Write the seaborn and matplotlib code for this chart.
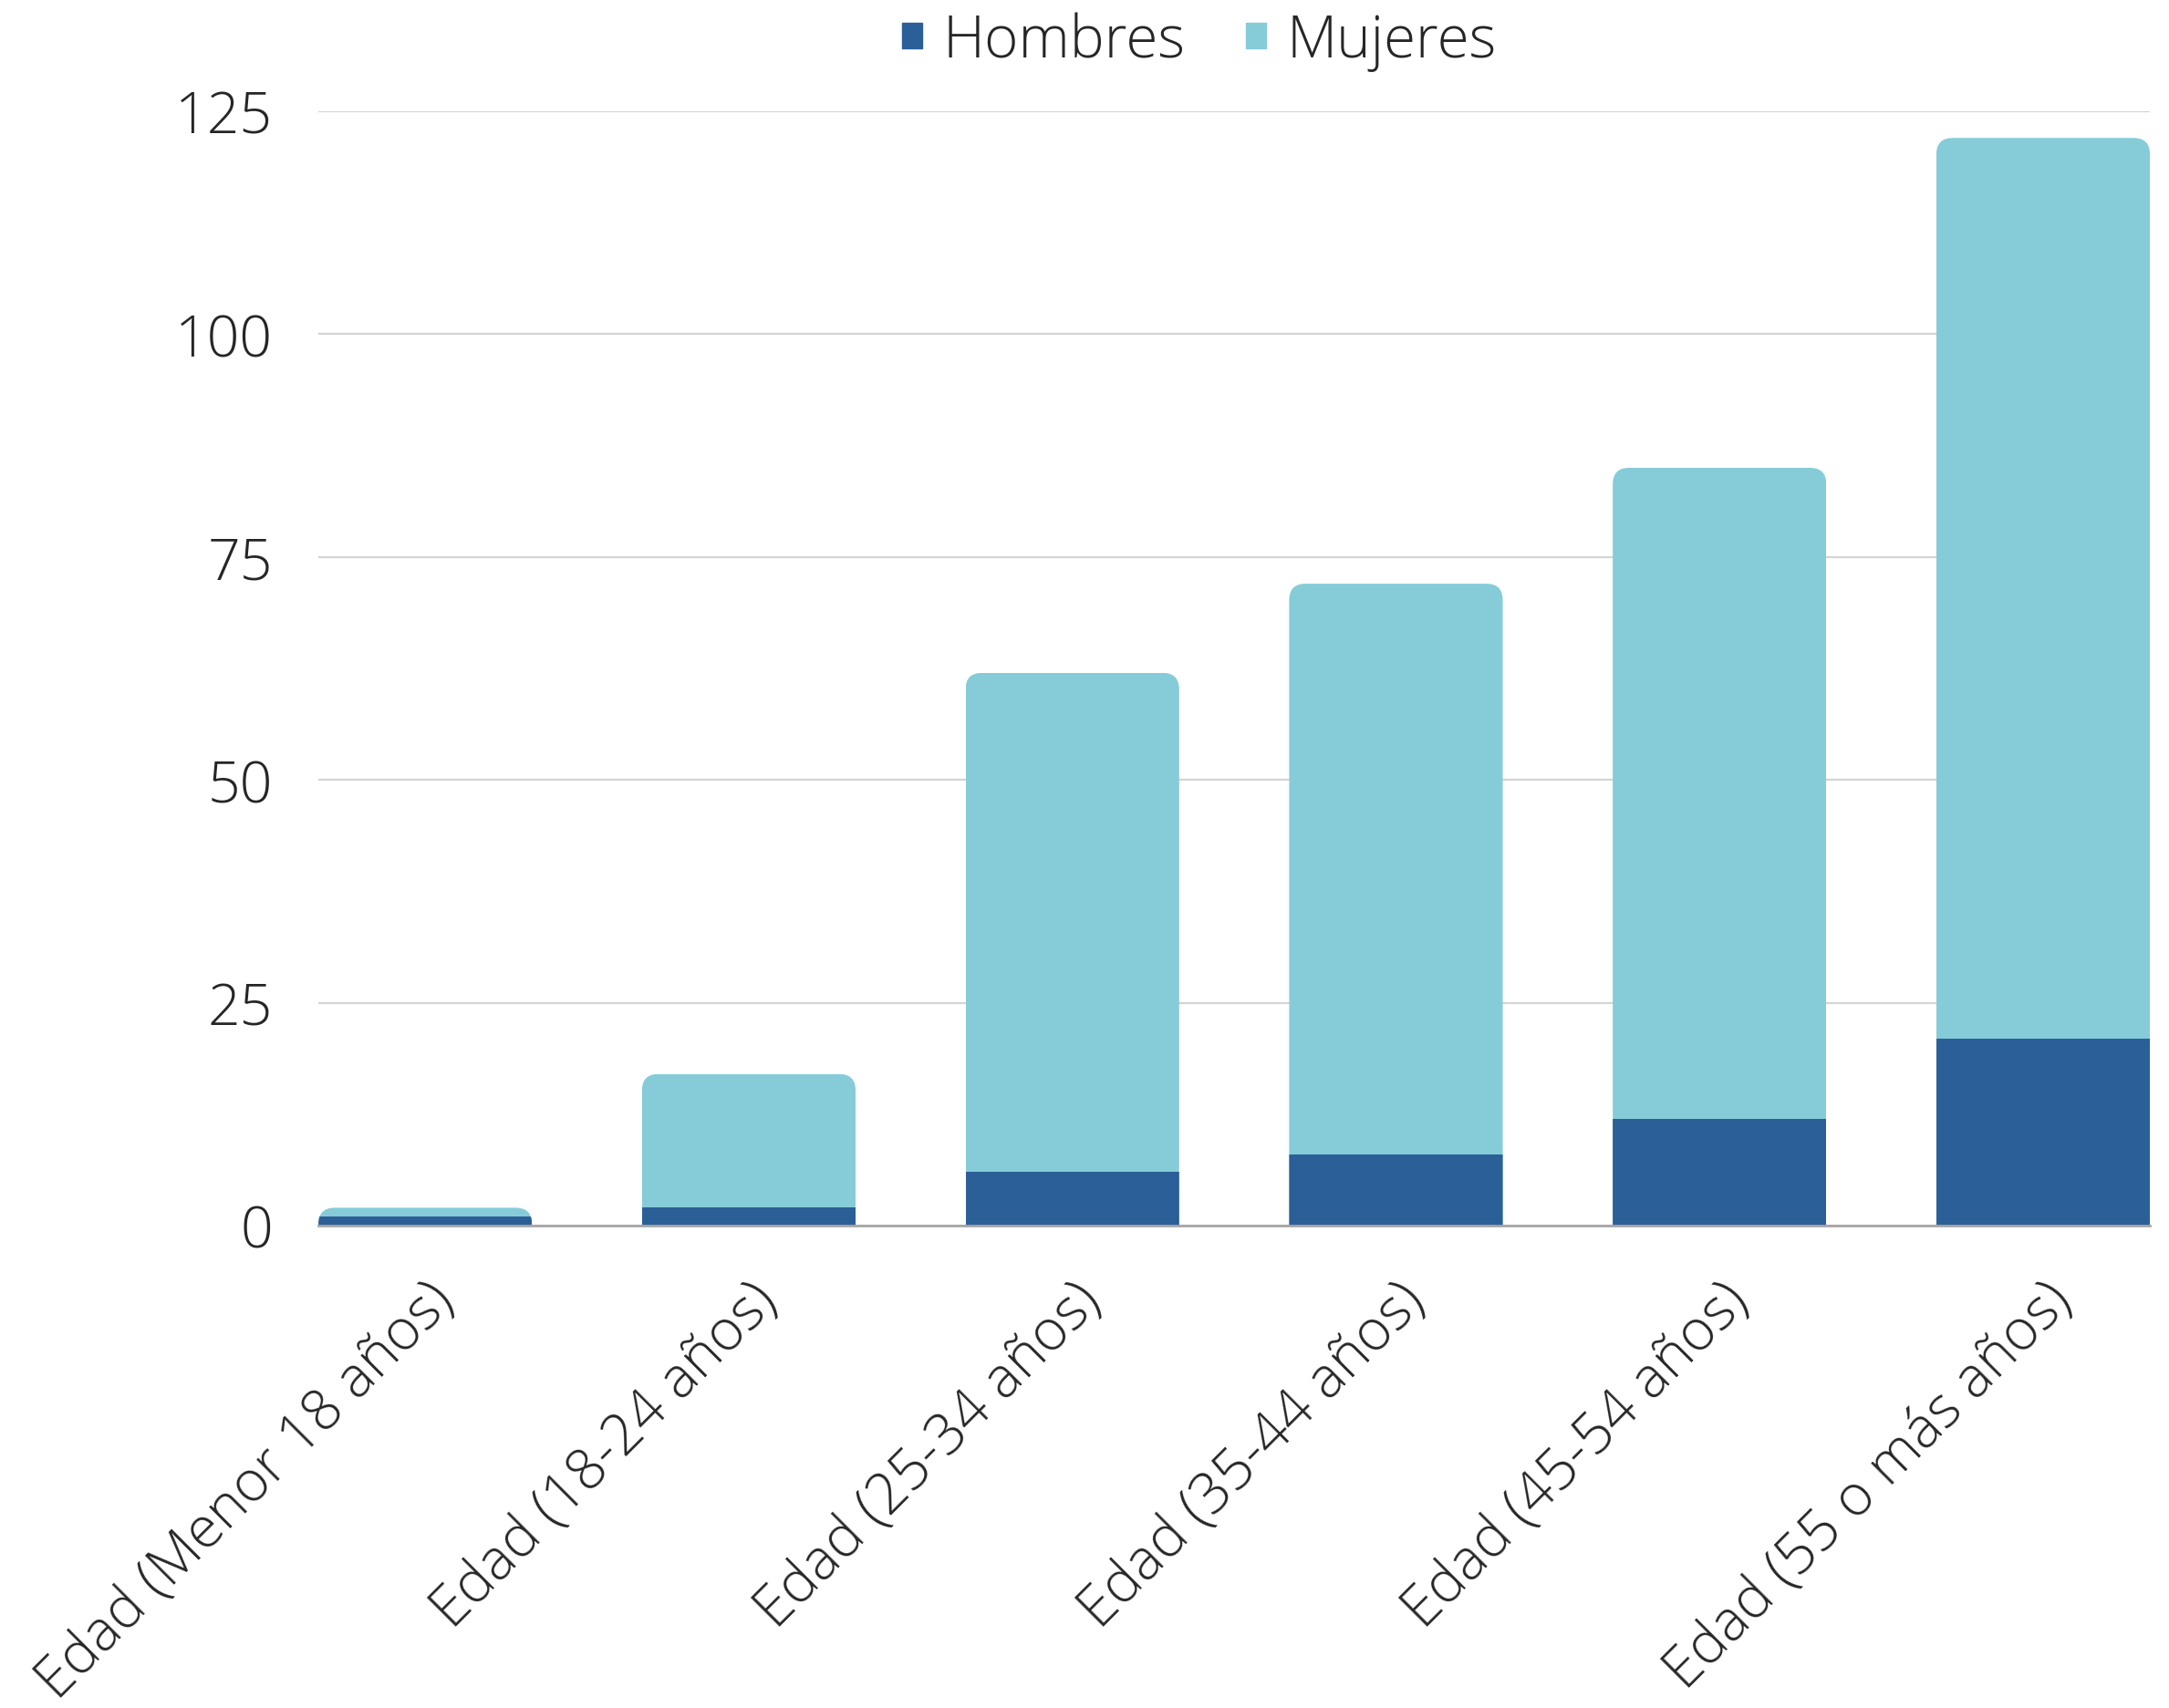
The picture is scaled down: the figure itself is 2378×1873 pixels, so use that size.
import numpy as np
import pandas as pd
import seaborn as sns
import matplotlib.pyplot as plt
from matplotlib.patches import FancyBboxPatch, Patch

plt.switch_backend("Agg")

CATEGORIES = ["Edad (Menor 18 años)", "Edad (18-24 años)", "Edad (25-34 años)",
              "Edad (35-44 años)", "Edad (45-54 años)", "Edad (55 o más años)"]
HOMBRES = [1, 2, 6, 8, 12, 21]
MUJERES = [1, 15, 56, 64, 73, 101]
Y_TICKS = [0, 25, 50, 75, 100, 125]

C_HOMBRES = "#2B5F98"
C_MUJERES = "#85CCD8"
TEXT = "#262626"
FS = 45

sns.set_theme(style="white")
plt.rcParams["font.family"] = ["Open Sans", "DejaVu Sans"]

df = pd.DataFrame({"cat": CATEGORIES, "hombres": HOMBRES, "mujeres": MUJERES})
df["total"] = df["hombres"] + df["mujeres"]

fig = plt.figure(figsize=(23.78, 18.74), dpi=100)
ax = fig.add_axes([0.1468, 0.2823, 0.9912 - 0.1468, 0.9344 - 0.2823])

sns.barplot(data=df, x="cat", y="total", color=C_MUJERES, width=0.66,
            saturation=1, ax=ax)
sns.barplot(data=df, x="cat", y="hombres", color=C_HOMBRES, width=0.66,
            saturation=1, ax=ax)

ax.set_xlim(-0.33, len(CATEGORIES) - 1 + 0.33)
ax.set_ylim(0, 125)
fig.canvas.draw()

# rounded top corners: clip each stack with a rounded box
px = ax.transData.transform([(0, 0), (1, 1)])
x_per_px = 1 / (px[1][0] - px[0][0])
y_per_px = 1 / (px[1][1] - px[0][1])
radius_px = 18
n = len(CATEGORIES)
tops, bottoms = ax.patches[:n], ax.patches[n:]
for top, bot in zip(tops, bottoms):
    x0 = top.get_x()
    w = top.get_width()
    h = top.get_height()
    clip = FancyBboxPatch((x0, -10), w, h + 10,
                          boxstyle=f"round,pad=0,rounding_size={radius_px * x_per_px}",
                          mutation_aspect=y_per_px / x_per_px,
                          transform=ax.transData)
    top.set_clip_path(clip)
    bot.set_clip_path(clip)
    top.set_linewidth(0)
    bot.set_linewidth(0)

ax.set_yticks(Y_TICKS)
ax.yaxis.grid(True, color="#d4d4d4", linewidth=1.6)
ax.set_axisbelow(True)
for s in ["top", "right", "left"]:
    ax.spines[s].set_visible(False)
ax.spines["bottom"].set_color("#a6a6a6")
ax.spines["bottom"].set_linewidth(2)
ax.set_xlabel("")
ax.set_ylabel("")
ax.tick_params(axis="y", length=0, pad=36, labelsize=FS, labelcolor=TEXT)
ax.tick_params(axis="x", length=0, pad=36, labelsize=FS, labelcolor=TEXT)
for lab in ax.get_yticklabels():
    lab.set_fontweight("light")
for lab in ax.get_xticklabels():
    lab.set_rotation(45)
    lab.set_ha("right")
    lab.set_rotation_mode("anchor")
    lab.set_fontweight("light")

handles = [Patch(color=C_HOMBRES, label="Hombres"), Patch(color=C_MUJERES, label="Mujeres")]
fig.legend(handles=handles, loc="center", bbox_to_anchor=(867 / 1568, 0.975),
           ncol=2, frameon=False, handlelength=0.34, handleheight=0.3,
           handletextpad=0.35, columnspacing=1.05,
           prop={"size": 46, "weight": "light"}, labelcolor=TEXT)

fig.savefig("out.png", dpi=100)
